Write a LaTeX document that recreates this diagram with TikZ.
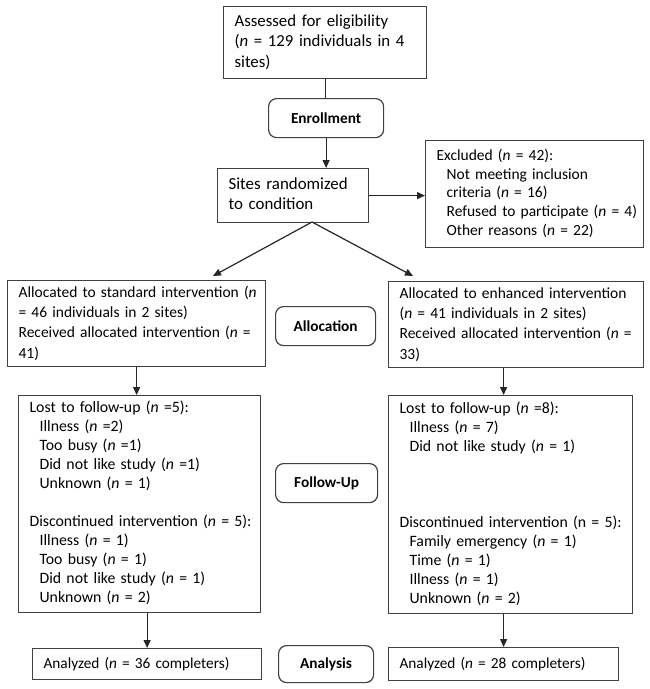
\documentclass[tikz,border=0pt]{standalone}
\usepackage{fontspec}
\setmainfont{Carlito}
\usetikzlibrary{arrows.meta}

\newcommand{\nv}{\textit{n}}
\newcommand{\indt}{\hspace*{10pt}}
\newcommand{\lines}[1]{\begin{tabular}{@{}l@{}}#1\end{tabular}}
\newcommand{\fsz}[2]{\fontsize{#1}{#2}\selectfont}

\tikzset{
  box/.style={draw=black!75, line width=1.2pt, anchor=north west, align=left,
    inner xsep=11pt, inner ysep=0pt, font=\fsz{15.5}{19}},
  stage/.style={draw=black!75, line width=1.2pt, rounded corners=8pt, anchor=north west,
    align=center, inner sep=0pt, font=\fsz{15.3}{19}\bfseries},
  link/.style={line width=1.2pt, draw=black!85},
  arr/.style={link, -{Triangle[length=8pt,width=7pt]}}
}

\begin{document}
\begin{tikzpicture}[x=1pt,y=-1pt]
  \useasboundingbox (0,0) rectangle (649,689);

  \node[box, font=\fsz{16.8}{20.5}, text width=181pt, minimum height=72pt] (assess) at (223,6)
    {\lines{Assessed for eligibility\\(\nv{} = 129 individuals in 4\\sites)}};
  \node[stage, minimum width=115pt, minimum height=39pt] (enroll) at (268,98) {Enrollment};
  \node[box, font=\fsz{16.9}{20.5}, text width=129pt, minimum height=54pt] (sites) at (217,168)
    {\lines{Sites randomized\\to condition}};
  \node[box, font=\fsz{15.5}{18.6}, text width=196pt, minimum height=107pt] (excl) at (425,140)
    {\lines{Excluded (\nv{} = 42):\\\indt Not meeting inclusion\\\indt criteria (\nv{} = 16)\\%
     \indt Refused to participate (\nv{} = 4)\\\indt Other reasons (\nv{} = 22)}};

  \node[box, font=\fsz{15.5}{20.3}, text width=236pt, minimum height=86pt] (allocL) at (7,280)
    {\lines{Allocated to standard intervention (\nv\\= 46 individuals in 2 sites)\\%
     Received allocated intervention (\nv{} =\\41)}};
  \node[stage, minimum width=100pt, minimum height=39pt] (allocC) at (275,306) {Allocation};
  \node[box, font=\fsz{15.5}{20.3}, text width=233pt, minimum height=86pt] (allocR) at (388,281)
    {\lines{Allocated to enhanced intervention\\(\nv{} = 41 individuals in 2 sites)\\%
     Received allocated intervention (\nv{} =\\33)}};

  \node[box, font=\fsz{15.8}{19}, text width=220pt, minimum height=217pt] (followL) at (18,395)
    {\lines{Lost to follow-up (\nv{} =5):\\\indt Illness (\nv{} =2)\\\indt Too busy (\nv{} =1)\\%
     \indt Did not like study (\nv{} =1)\\\indt Unknown (\nv{} = 1)\\~\\%
     Discontinued intervention (\nv{} = 5):\\\indt Illness (\nv{} = 1)\\\indt Too busy (\nv{} = 1)\\%
     \indt Did not like study (\nv{} = 1)\\\indt Unknown (\nv{} = 2)}};
  \node[stage, minimum width=102pt, minimum height=39pt] (followC) at (275,463) {Follow-Up};
  \node[box, font=\fsz{15.8}{19}, text width=222pt, minimum height=218pt] (followR) at (388,395)
    {\lines{Lost to follow-up (\nv{} =8):\\\indt Illness (\nv{} = 7)\\\indt Did not like study (\nv{} = 1)\\%
     ~\\~\\~\\%
     Discontinued intervention (n = 5):\\\indt Family emergency (\nv{} = 1)\\\indt Time (\nv{} = 1)\\%
     \indt Illness (\nv{} = 1)\\\indt Unknown (\nv{} = 2)}};

  \node[box, font=\fsz{15.3}{18}, text width=207pt, minimum height=31pt] (analL) at (32,648)
    {Analyzed (\nv{} = 36 completers)};
  \node[stage, minimum width=95pt, minimum height=37pt] (analC) at (278,645) {Analysis};
  \node[box, font=\fsz{15.3}{18}, text width=208pt, minimum height=33pt] (analR) at (388,647)
    {Analyzed (\nv{} = 28 completers)};

  \coordinate (split) at (312,222);
  \coordinate (tipL) at (213,276);
  \coordinate (tipR) at (413,276);

  \draw[link] (assess.south) -- (assess.south |- enroll.north);
  \draw[arr] (enroll.south) -- (enroll.south |- sites.north);
  \draw[arr] (sites.east) -- (sites.east -| excl.west);
  \draw[arr] (split) -- (tipL);
  \draw[arr] (split) -- (tipR);
  \draw[arr] (allocL.south) -- (allocL.south |- followL.north);
  \draw[arr] (analR.north |- allocR.south) -- (analR.north |- followR.north);
  \draw[arr] (analL.north |- followL.south) -- (analL.north);
  \draw[arr] (analR.north |- followR.south) -- (analR.north);
\end{tikzpicture}
\end{document}
